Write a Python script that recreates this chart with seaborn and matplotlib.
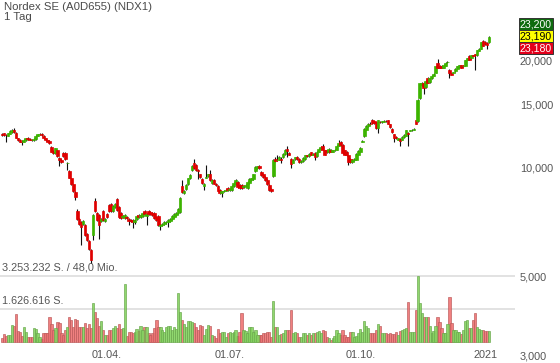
import numpy as np
import pandas as pd
import matplotlib
matplotlib.use("Agg")
import matplotlib.pyplot as plt
import matplotlib.transforms as mtransforms
from matplotlib.patches import Rectangle
from matplotlib.ticker import FixedLocator, FixedFormatter, NullLocator, NullFormatter
import seaborn as sns

# ---------------- data ----------------
TITLE = "Nordex SE (A0D655) (NDX1)"
PERIOD = "1 Tag"
START, END = "2020-01-17", "2021-01-06"
HOLIDAYS = ["2020-04-10", "2020-04-13", "2020-05-01", "2020-12-24",
            "2020-12-25", "2020-12-31", "2021-01-01"]
TICK_DATES = ["2020-04-01", "2020-07-01", "2020-10-01", "2021-01-01"]
TICK_LABELS = ["01.04.", "01.07.", "01.10.", "2021"]
PRICE_TICKS = [3, 5, 10, 15, 20]
PRICE_TICK_LABELS = ["3,000", "5,000", "10,000", "15,000", "20,000"]
QUOTES = ["23,200", "23,190", "23,180"]          # ask / last / bid
VOL_LINES = [1.626616, 3.253232]                   # million shares
VOL_LINE_LABELS = ["1.626.616 S.", "3.253.232 S. / 48,0 Mio."]

OPEN = [12.45, 12.50, 12.35, 12.30, 12.45, 12.60, 12.80, 12.55, 12.10, 12.00,
        11.85, 11.85, 11.95, 12.15, 12.05, 12.00, 11.95, 12.05, 12.30, 12.40,
        12.42, 12.30, 12.10, 11.95, 11.90, 11.45, 11.10, 11.00, 11.20, 10.65, 10.55,
        11.00, 11.00, 10.30, 9.80, 9.35, 9.00, 8.55, 7.60, 7.20, 7.05,
        7.00, 6.95, 6.55, 6.25, 5.90, 6.50, 8.10, 7.50, 7.40, 7.10,
        7.60, 7.10, 7.45, 7.90, 7.95, 7.60, 7.80, 8.20, 7.80, 7.50,
        7.30, 7.25, 7.30, 7.20, 7.15, 7.15, 7.05, 7.20, 7.40, 7.30,
        7.35, 7.60, 7.35, 7.60, 7.55, 7.50, 7.50, 7.30, 7.35, 6.90,
        6.95, 7.00, 7.05, 7.05, 7.10, 7.20, 7.30, 7.40, 7.50, 7.55,
        8.90, 8.50, 8.75, 9.00, 9.35, 9.85, 10.30, 10.20, 9.85, 9.60,
        9.30, 8.90, 9.40, 9.50, 9.60,
        9.10, 9.25, 9.05, 8.90, 8.70, 8.50, 8.60, 8.65, 8.80, 8.70,
        8.70, 8.90, 9.00, 9.15, 8.95, 8.95, 8.85, 8.90, 8.80, 9.10,
        9.25, 9.30, 9.80, 10.00, 10.10, 9.75, 9.60, 9.45, 9.25, 8.95,
        8.75, 9.50, 10.60, 10.50, 10.55, 10.60, 10.70, 10.95, 11.30, 11.00,
        10.60, 10.35, 10.60, 10.75, 10.60, 10.40, 10.45, 10.60, 10.85, 10.80,
        11.05, 10.90, 11.00, 10.80, 11.10, 11.30, 11.50, 11.20,
        11.20, 11.05, 11.25, 11.10, 11.20, 11.25, 11.55, 11.85, 11.60, 11.20,
        11.10, 10.85, 10.60, 10.40, 10.50, 10.55, 10.90, 11.10, 11.85, 12.25,
        12.80, 13.10, 13.30, 13.60, 13.50, 13.40, 12.90, 13.45, 13.40, 13.45,
        13.55, 13.60, 13.25, 12.85, 12.40, 12.20, 12.00, 12.05, 12.00, 12.20,
        12.30, 12.55, 12.70, 12.75, 12.80, 13.60, 13.50, 15.70, 17.00, 17.30,
        16.80, 17.80, 17.35, 17.80, 18.10, 18.40, 19.60, 19.30, 19.30, 19.00,
        19.30, 19.70, 18.80, 18.40, 18.40, 18.60, 18.90, 19.10, 19.35,
        19.20, 19.30, 20.00, 20.50, 20.20, 20.60, 20.80, 20.60, 21.20, 21.50,
        22.60, 22.50, 22.30, 22.40]

HIGH = [12.55, 12.55, 12.42, 12.55, 12.75, 12.85, 12.90, 12.60, 12.15, 12.05,
        11.95, 12.05, 12.15, 12.20, 12.10, 12.05, 12.10, 12.35, 12.45, 12.50,
        12.48, 12.35, 12.15, 12.00, 11.95, 11.50, 11.20, 11.40, 11.25, 10.75, 10.60,
        11.05, 11.05, 10.40, 9.85, 9.40, 9.05, 8.60, 7.70, 7.25, 7.10,
        7.15, 7.00, 6.60, 6.30, 5.95, 7.45, 8.25, 7.55, 7.45, 7.25,
        7.65, 7.25, 7.50, 7.95, 8.00, 7.90, 8.00, 8.25, 7.85, 7.55,
        7.40, 7.45, 7.35, 7.25, 7.20, 7.20, 7.20, 7.40, 7.45, 7.45,
        7.55, 7.65, 7.50, 7.65, 7.60, 7.55, 7.55, 7.35, 7.40, 7.00,
        7.02, 7.10, 7.10, 7.20, 7.25, 7.40, 7.50, 7.55, 7.75, 8.30,
        9.25, 8.70, 9.00, 9.40, 9.60, 10.20, 10.60, 10.25, 9.95, 9.65,
        9.35, 9.10, 10.20, 9.65, 9.85,
        9.30, 9.30, 9.10, 8.95, 8.75, 8.65, 8.70, 8.75, 8.85, 8.80,
        8.95, 9.15, 9.30, 9.20, 9.00, 9.00, 8.95, 9.00, 9.20, 9.35,
        9.40, 9.65, 10.10, 10.15, 10.20, 9.80, 9.65, 9.50, 9.30, 9.00,
        8.80, 10.60, 10.70, 10.90, 10.80, 10.70, 11.00, 11.30, 11.55, 11.05,
        10.65, 10.60, 10.75, 10.80, 10.65, 10.50, 10.70, 10.90, 10.90, 11.00,
        11.10, 11.00, 11.05, 11.15, 11.35, 11.50, 11.70, 11.25,
        11.25, 11.35, 11.30, 11.25, 11.30, 11.60, 11.95, 11.90, 11.65, 11.25,
        11.15, 10.90, 10.65, 10.60, 10.65, 11.00, 11.20, 11.45, 11.95, 12.90,
        13.15, 13.35, 13.40, 13.70, 13.55, 13.45, 13.65, 13.55, 13.55, 13.60,
        13.60, 13.65, 13.30, 12.90, 12.45, 12.25, 12.15, 12.10, 12.25, 12.40,
        12.80, 12.60, 12.80, 12.85, 12.90, 13.65, 15.55, 17.30, 17.40, 17.35,
        17.55, 17.90, 17.85, 18.15, 18.35, 19.25, 20.10, 19.35, 19.35, 19.45,
        19.70, 19.90, 18.85, 18.45, 18.55, 18.95, 19.30, 19.40, 19.40,
        19.35, 20.05, 20.25, 20.60, 20.65, 20.70, 20.85, 21.35, 21.55, 22.45,
        22.70, 22.60, 22.40, 23.35]

LOW = [12.30, 12.30, 11.85, 12.25, 12.40, 12.55, 12.55, 12.10, 11.90, 11.80,
       11.60, 11.80, 11.90, 12.00, 11.95, 11.90, 11.90, 12.00, 12.25, 12.35,
       12.28, 12.05, 11.90, 11.80, 11.70, 11.05, 10.95, 10.95, 10.75, 10.10, 10.30,
       10.75, 10.55, 9.85, 9.35, 8.95, 8.55, 8.15, 7.15, 6.95, 6.10,
       6.95, 6.45, 6.25, 5.90, 5.45, 6.30, 7.55, 7.10, 6.35, 7.05,
       7.10, 7.05, 7.25, 7.55, 7.55, 7.55, 7.75, 7.60, 7.25, 7.20,
       7.25, 7.20, 7.20, 6.95, 7.05, 6.80, 7.00, 7.15, 7.25, 7.25,
       7.30, 7.40, 6.95, 7.40, 7.40, 7.35, 7.20, 7.10, 6.90, 6.70,
       6.90, 6.95, 7.00, 6.85, 7.05, 7.15, 7.25, 7.35, 7.45, 7.50,
       8.50, 8.45, 8.70, 8.95, 9.30, 9.80, 9.95, 9.80, 9.30, 9.40,
       9.05, 8.70, 9.35, 9.45, 9.20,
       9.05, 9.00, 8.90, 8.60, 8.45, 8.30, 8.55, 8.60, 8.65, 8.65,
       8.65, 8.85, 8.95, 8.80, 8.75, 8.75, 8.80, 8.85, 8.75, 9.05,
       9.20, 9.25, 9.75, 9.95, 9.95, 9.50, 9.40, 9.20, 8.95, 8.65,
       8.55, 9.45, 10.40, 10.45, 10.50, 10.30, 10.65, 10.90, 10.75, 10.85,
       10.00, 10.30, 10.55, 10.55, 10.35, 10.35, 10.40, 10.55, 10.75, 10.75,
       10.85, 10.85, 10.50, 10.75, 11.05, 11.25, 11.20, 10.85,
       11.00, 11.00, 11.05, 11.05, 11.15, 11.20, 11.50, 11.55, 10.95, 10.85,
       10.80, 10.20, 10.35, 10.35, 10.45, 10.50, 10.85, 11.05, 11.80, 12.20,
       12.75, 13.05, 13.20, 13.30, 13.30, 12.85, 12.50, 13.35, 13.35, 13.40,
       13.45, 13.25, 12.95, 12.55, 11.80, 12.05, 11.95, 11.55, 11.95, 12.15,
       12.25, 11.50, 12.65, 12.70, 12.75, 13.25, 13.45, 15.60, 16.90, 16.10,
       16.75, 17.25, 17.30, 17.75, 18.05, 18.35, 18.95, 18.95, 18.95, 18.95,
       19.25, 19.65, 17.80, 18.15, 18.35, 18.55, 18.85, 19.05, 18.95,
       19.15, 19.25, 19.95, 19.95, 20.15, 20.50, 18.80, 20.55, 21.15, 21.45,
       21.85, 22.05, 21.50, 22.35]

CLOSE = [12.36, 12.35, 12.32, 12.50, 12.70, 12.75, 12.60, 12.15, 11.95, 11.85,
         11.80, 12.00, 12.10, 12.05, 12.00, 11.95, 12.05, 12.30, 12.40, 12.42,
         12.33, 12.10, 11.95, 11.85, 11.75, 11.10, 11.00, 11.35, 10.80, 10.55, 10.40,
         10.80, 10.60, 10.35, 9.40, 9.00, 8.60, 8.30, 7.20, 7.00, 6.85,
         7.10, 6.50, 6.30, 5.95, 5.55, 7.40, 7.60, 7.15, 6.95, 7.20,
         7.15, 7.20, 7.30, 7.60, 7.60, 7.85, 7.95, 7.65, 7.30, 7.25,
         7.35, 7.40, 7.25, 7.12, 7.10, 7.05, 7.15, 7.35, 7.30, 7.40,
         7.50, 7.45, 7.45, 7.45, 7.45, 7.40, 7.25, 7.15, 6.95, 6.95,
         6.98, 7.05, 7.05, 7.15, 7.20, 7.35, 7.45, 7.50, 7.70, 8.25,
         8.55, 8.65, 8.95, 9.35, 9.55, 10.15, 10.00, 9.85, 9.80, 9.45,
         9.10, 9.05, 9.45, 9.60, 9.25,
         9.25, 9.05, 8.95, 8.65, 8.50, 8.60, 8.65, 8.70, 8.70, 8.75,
         8.90, 9.10, 9.25, 8.85, 8.80, 8.80, 8.90, 8.95, 9.15, 9.30,
         9.35, 9.60, 10.05, 10.10, 10.00, 9.55, 9.45, 9.25, 9.00, 8.70,
         8.60, 10.55, 10.45, 10.55, 10.75, 10.55, 10.95, 11.20, 11.15, 10.90,
         10.25, 10.55, 10.70, 10.60, 10.40, 10.45, 10.65, 10.85, 10.80, 10.95,
         10.90, 10.95, 10.70, 11.10, 11.30, 11.45, 11.25, 10.90,
         11.05, 11.30, 11.10, 11.20, 11.25, 11.55, 11.75, 11.60, 11.00, 10.90,
         10.85, 10.40, 10.40, 10.55, 10.60, 10.95, 11.15, 11.40, 11.90, 12.85,
         13.10, 13.30, 13.25, 13.35, 13.35, 12.90, 13.60, 13.40, 13.50, 13.55,
         13.50, 13.30, 13.00, 12.60, 12.15, 12.10, 12.10, 11.90, 12.20, 12.35,
         12.75, 12.45, 12.75, 12.80, 12.85, 13.30, 15.50, 17.20, 17.30, 16.70,
         17.50, 17.30, 17.80, 18.10, 18.30, 19.20, 19.00, 19.00, 19.00, 19.40,
         19.65, 19.80, 18.40, 18.20, 18.50, 18.90, 19.25, 19.35, 19.00,
         19.30, 20.00, 20.20, 20.00, 20.60, 20.55, 20.60, 21.30, 21.50, 22.40,
         21.90, 22.10, 22.00, 23.20]

# volume in million shares
VOLUME = [0.2, 0.4, 0.3, 0.35, 0.35, 0.85, 0.8, 1.4, 0.55, 0.5,
          0.3, 0.75, 0.5, 0.25, 0.25, 0.25, 0.7, 0.65, 0.45, 0.25,
          0.15, 0.45, 0.45, 0.45, 1.25, 0.9, 0.6, 0.7, 1.0, 0.95,
          0.45, 0.35, 0.6, 0.75, 1.25, 1.1, 0.75, 1.15, 1.1, 0.75,
          0.75, 0.75, 0.95, 0.7, 0.9, 0.7, 1.9, 1.5, 1.2, 0.8,
          1.05, 0.6, 0.35, 0.35, 0.6, 0.6, 0.7, 0.8, 0.7, 0.9,
          0.65, 0.7, 2.85, 0.3, 0.5, 0.5, 0.45, 0.5, 0.65, 0.55,
          0.8, 0.6, 0.75, 0.75, 0.45, 0.35, 0.45, 0.7, 1.1, 0.75,
          0.75, 0.6, 0.5, 0.75, 0.8, 0.8, 0.6, 0.75, 0.65, 2.4,
          1.5, 1.1, 0.9, 0.75, 1.05, 1.05, 1.0, 0.95, 0.75, 0.6,
          0.85, 0.8, 0.35, 0.65, 0.85, 0.8, 0.35, 0.3, 0.2, 0.65,
          0.45, 0.5, 0.5, 0.25, 0.45, 0.5, 0.45, 0.5, 0.6, 0.3,
          0.5, 1.45, 0.6, 0.55, 0.45, 0.75, 0.75, 0.5, 0.6, 0.35,
          0.35, 0.35, 0.45, 0.45, 0.5, 0.5, 0.25, 2.0, 0.75, 0.75,
          0.35, 0.4, 0.45, 0.6, 0.6, 0.6, 1.6, 0.45, 0.5, 0.45,
          0.25, 0.25, 0.45, 0.45, 0.35, 0.45, 0.35, 0.45, 0.45, 0.5,
          0.55, 0.45, 0.6, 0.55, 0.25, 0.2, 0.1, 0.2, 0.3, 0.6,
          0.45, 0.35, 0.6, 0.35, 0.25, 0.25, 0.5, 0.5, 0.25, 0.3,
          0.45, 0.65, 0.5, 1.05, 0.8, 0.7, 0.45, 0.45, 0.45, 0.6,
          0.9, 0.8, 0.45, 0.45, 0.45, 0.4, 0.45, 0.4, 0.4, 0.5,
          0.35, 0.55, 0.6, 0.65, 0.7, 1.95, 0.5, 0.5, 0.5, 1.6,
          3.25, 1.9, 1.45, 1.25, 1.25, 1.25, 0.8, 0.45, 0.55, 0.8,
          1.25, 1.0, 0.7, 0.45, 0.45, 0.9, 2.2, 0.95, 0.6, 0.6,
          0.5, 0.5, 0.4, 0.6, 1.05, 1.1, 0.7, 0.7, 1.1, 1.45,
          0.75, 0.65, 0.6, 0.6, 0.55, 0.55, 0.55]

# ---------------- build frame ----------------
dates = pd.bdate_range(START, END, freq="C", holidays=HOLIDAYS)
n = len(dates)
assert n == len(OPEN) == len(HIGH) == len(LOW) == len(CLOSE) == len(VOLUME), \
    (n, len(OPEN), len(HIGH), len(LOW), len(CLOSE), len(VOLUME))

df = pd.DataFrame({"date": dates, "open": OPEN, "high": HIGH, "low": LOW,
                   "close": CLOSE, "volume": VOLUME})
df["pos"] = np.arange(n)
df["dir"] = np.where(df["close"] >= df["open"], "up", "down")

# ---------------- figure ----------------
W, H, DPI = 560, 363, 100
sns.set_theme(style="white")
plt.rcParams["font.family"] = ["Liberation Sans", "DejaVu Sans"]
TXT = "#555555"

fig = plt.figure(figsize=(W / DPI, H / DPI), dpi=DPI)
fig.patch.set_facecolor("white")
PLOT_RIGHT = 515
ax = fig.add_axes([0, 0, PLOT_RIGHT / W, 1])      # volume pane
axp = ax.twinx()                                   # price pane (log)

# pixel geometry: price axis log, 10 at y=168px, 108 px per doubling
def px_to_price(p):
    return 10 * 2 ** ((168 - p) / 108)

SPACING = 1.98
x_left = -1
x_right = PLOT_RIGHT / SPACING - 1

# ---- volume with seaborn ----
vol_pal = {"up": "#84d35f", "down": "#ef7272"}
sns.barplot(data=df, x="pos", y="volume", hue="dir", palette=vol_pal,
            native_scale=True, dodge=False, width=1.15, saturation=1,
            errorbar=None, legend=False, ax=ax)
for p in ax.patches:
    fc = np.array(p.get_facecolor())
    p.set_alpha(0.9)
    p.set_edgecolor(tuple(fc[:3] * 0.78))
    p.set_linewidth(0.5)

vbase, vscale = 342, 66 / 3.253232
ax.set_ylim(-(H - vbase) / vscale, vbase / vscale)
ax.set_yticks(VOL_LINES)
ax.yaxis.grid(True, color="#e2e2e2", linewidth=1.4)
ax.xaxis.grid(False)
ax.set_axisbelow(True)
ax.tick_params(axis="y", left=False, labelleft=False, right=False, labelright=False)
ax.set_xlabel("")
ax.set_ylabel("")
ax.set_xticks([])

lbl_tr = mtransforms.blended_transform_factory(ax.transAxes, ax.transData) + \
    mtransforms.ScaledTranslation(0, 2.2 / 72, fig.dpi_scale_trans)
for v, t in zip(VOL_LINES, VOL_LINE_LABELS):
    ax.text(2 / PLOT_RIGHT, v, t, transform=lbl_tr, ha="left", va="bottom",
            fontsize=7.8, color=TXT)

# ---- candles ----
up = (df["close"] >= df["open"]).to_numpy()
body_col = np.where(up, "#3cb400", "#e00000")
axp.vlines(df["pos"], df["low"], df["high"], color="#111111", linewidth=0.8, zorder=2)
axp.bar(df["pos"], (df["close"] - df["open"]).abs(),
        bottom=np.minimum(df["open"], df["close"]), width=1.3,
        color=body_col, edgecolor=body_col, linewidth=0.5, zorder=3)
axp.set_yscale("log")
axp.set_ylim(px_to_price(H), px_to_price(0))
axp.yaxis.set_major_locator(FixedLocator(PRICE_TICKS))
axp.yaxis.set_major_formatter(FixedFormatter(PRICE_TICK_LABELS))
axp.yaxis.set_minor_locator(NullLocator())
axp.yaxis.set_minor_formatter(NullFormatter())
axp.tick_params(axis="y", which="both", length=0, pad=3.6, labelsize=7.8,
                labelcolor=TXT)
axp.grid(False)

ax.set_xlim(x_left, x_right)
for a in (ax, axp):
    for s in a.spines.values():
        s.set_visible(False)

# ---- x tick labels ----
tick_pos = [int(dates.searchsorted(pd.Timestamp(d))) for d in TICK_DATES]
xtr = mtransforms.blended_transform_factory(ax.transData, ax.transAxes)
for pos, lab in zip(tick_pos, TICK_LABELS):
    ax.text(pos, 1 - 357.5 / H, lab, transform=xtr, ha="center", va="baseline",
            fontsize=7.8, color=TXT)

# ---- header ----
fig.text(4 / W, 1 - 10.5 / H, TITLE, ha="left", va="baseline", fontsize=8.2, color="#4a4a4a")
fig.text(4 / W, 1 - 20.5 / H, PERIOD, ha="left", va="baseline", fontsize=8.2, color="#4a4a4a")

# ---- quote boxes ----
box_specs = [("#0e6b0e", "white", 18), ("#ffff00", "black", 30), ("#e3001b", "white", 42)]
for q, (fc, tc, top) in zip(QUOTES, box_specs):
    fig.add_artist(Rectangle((518.5 / W, 1 - (top + 12) / H), 34 / W, 12 / H,
                             transform=fig.transFigure, facecolor=fc,
                             edgecolor="#333333", linewidth=0.7, zorder=5))
    fig.text(535.5 / W, 1 - (top + 6.2) / H, q, ha="center", va="center",
             fontsize=7.6, color=tc, zorder=6)

fig.savefig("out.png", dpi=DPI)
